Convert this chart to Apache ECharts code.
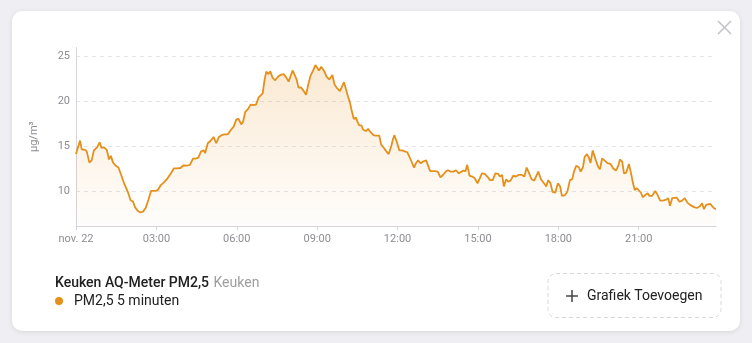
<!DOCTYPE html>
<html>
<head>
<meta charset="utf-8">
<script src="https://cdn.jsdelivr.net/npm/echarts@6/dist/echarts.min.js"></script>
<style>
  html, body { margin: 0; padding: 0; width: 752px; height: 343px; background: #eeeef3; overflow: hidden; font-family: Roboto, "Noto Sans", sans-serif; }
  #card { position: absolute; left: 12px; top: 11px; width: 728px; height: 320px; background: #fff; border-radius: 10px; box-shadow: 0 1px 5px rgba(0,0,0,0.10); }
  #chart { position: absolute; left: 0; top: 0; width: 752px; height: 343px; }
</style>
</head>
<body>
<div id="card"></div>
<div id="chart"></div>
<script>
// Time of each reading, minutes after midnight (nov. 22)
const minutes = [
  0,4,9,13,19,24,30,35,40,47,53,57,63,69,74,78,83,89,95,101,108,116,122,128,132,138,144,150,156,162,168,172,178,184,190,198,205,213,219,226,234,241,247,255,262,268,274,280,286,
  289,295,301,308,314,320,326,332,340,347,353,359,364,370,374,379,385,391,397,403,409,413,418,422,426,431,435,440,446,452,458,465,471,476,480,485,489,494,498,504,510,515,519,525,531,536,540,544,549,555,561,567,
  574,579,585,591,595,600,604,609,613,617,622,627,630,634,639,643,649,654,660,666,671,679,683,689,695,700,706,710,713,718,724,730,736,742,746,751,757,761,766,772,778,784,788,793,799,804,810,816,822,828,833,839,845,851,857,861,
  867,872,876,881,887,893,899,903,909,915,921,927,933,939,945,949,954,958,963,967,973,979,985,991,998,1004,1009,1014,1020,1026,1030,1035,1041,1047,1053,1057,1062,1067,1073,1079,1084,1088,1094,1100,1106,1111,1115,1120,1126,1130,1135,1139,1144,1148,
  1152,1157,1160,1164,1169,1173,1178,1184,1190,1197,1203,1209,1214,1218,1223,1227,1232,1238,1242,1247,1251,1256,1260,1265,1269,1275,1280,1284,1290,1293,1297,1302,1308,1314,1320,1326,1330,1335,1339,1345,1351,1357,1363,1369,1375,1379,1384,1390,1396,1402,1406,1411,1415,1420,1424,1428,1433
];
// PM2,5 readings (µg/m³)
const pm25 = [
  14.1,14.25,15.6,14.6,14.6,14.4,13.15,13.4,14.5,14.85,15.4,14.8,14.85,14.55,13.5,13.9,13.15,12.8,12.6,11.8,10.8,9.9,9.0,8.8,8.2,7.8,7.6,7.7,8.1,9.0,10.0,9.9,10.0,10.15,10.65,11.0,11.4,12.0,12.5,12.5,12.55,12.85,12.8,12.9,13.6,13.6,13.7,14.4,14.5,
  14.2,15.3,15.55,16.0,15.3,16.0,16.2,16.3,16.3,16.8,17.15,17.96,18.0,17.4,17.7,18.8,19.1,19.6,19.55,19.6,20.4,20.2,20.85,22.3,23.26,23.0,23.3,22.6,22.3,22.7,22.9,23.0,22.6,22.15,22.2,23.4,23.26,22.4,21.5,21.5,21.1,20.7,21.6,22.8,23.4,24.0,23.8,23.4,23.8,23.4,22.7,22.4,
  22.9,21.8,21.4,21.1,21.2,22.1,21.4,20.5,19.9,19.0,18.0,18.15,17.7,17.3,17.3,16.8,16.66,16.9,16.5,16.2,16.15,16.15,15.2,14.8,14.4,14.1,15.0,15.8,16.2,15.5,14.5,14.5,14.4,14.3,14.3,13.3,12.6,13.07,13.4,13.07,13.3,13.4,13.26,12.2,12.2,12.2,12.15,11.5,11.8,12.15,12.3,12.15,12.15,12.3,11.96,11.8,
  12.26,12.2,12.9,11.7,11.6,11.4,10.85,11.04,11.96,11.9,11.6,11.2,11.2,11.96,11.9,11.6,11.78,10.5,11.3,11.04,11.15,11.7,11.6,11.78,11.78,11.6,12.6,12.04,11.3,11.15,11.04,12.15,11.3,10.9,10.5,11.2,10.9,9.9,9.8,10.85,10.5,9.45,9.5,9.9,11.2,11.3,12.15,12.8,12.63,12.15,12.63,13.8,14.1,13.74,
  13.1,14.5,14.56,13.4,12.7,12.4,13.6,13.37,13.1,13.0,12.5,12.26,12.78,13.5,13.26,11.96,12.04,13.0,12.15,10.9,10.1,10.3,10.4,9.8,9.3,9.56,9.74,9.45,9.45,9.56,10.0,9.56,8.93,8.93,9.0,9.2,8.34,9.2,9.37,9.26,8.8,8.93,9.2,8.7,8.45,8.56,8.2,8.1,8.26,8.63,7.97,8.45,8.34,8.56,8.34,8.1,7.97
];
// x tick positions (minutes) and their labels
const xTicks = [0, 180, 360, 540, 720, 900, 1080, 1260];
const xTickLabels = ['nov. 22', '03:00', '06:00', '09:00', '12:00', '15:00', '18:00', '21:00'];
// y tick labels
const yTicks = [10, 15, 20, 25];

const seriesName = 'PM2,5 5 minuten';
const lineColor = '#e6901c';
const gray = '#8e8e93';

const chart = echarts.init(document.getElementById('chart'), null, { renderer: 'canvas' });
chart.setOption({
  animation: false,
  textStyle: { fontFamily: 'Roboto' },
  title: {
    left: 50, top: 269,
    text: '{a|Keuken AQ-Meter PM2,5} {b|Keuken}',
    textStyle: {
      rich: {
        a: { fontFamily: 'Roboto', fontSize: 14, fontWeight: 500, color: '#212121' },
        b: { fontFamily: 'Roboto', fontSize: 14, fontWeight: 400, color: '#9e9e9e' }
      }
    }
  },
  legend: {
    left: 50, top: 289,
    icon: 'circle', itemWidth: 8, itemHeight: 8,
    textStyle: { fontFamily: 'Roboto', fontSize: 14, color: '#212121', padding: [0, 0, 0, 6] },
    data: [{ name: seriesName, itemStyle: { color: lineColor } }]
  },
  grid: { left: 76, right: 36, top: 47.5, bottom: 117 },
  xAxis: {
    type: 'value', min: 0, max: 1433,
    axisLine: { show: true, lineStyle: { color: '#d4d4da', width: 1 } },
    axisTick: { show: true, length: 4, lineStyle: { color: '#d4d4da' }, customValues: xTicks },
    axisLabel: {
      customValues: xTicks, margin: 8, fontSize: 11, color: gray, fontFamily: 'Roboto',
      formatter: v => xTickLabels[xTicks.indexOf(v)]
    },
    splitLine: { show: false }
  },
  yAxis: {
    type: 'value', min: 6.1, max: 25.95, splitNumber: 4,
    name: 'µg/m³', nameLocation: 'middle', nameRotate: 90, nameGap: 36,
    nameTextStyle: { fontSize: 11, color: gray, fontFamily: 'Roboto' },
    axisLine: { show: true, lineStyle: { color: '#d4d4da', width: 1 } },
    axisTick: { show: false },
    axisLabel: { customValues: yTicks, margin: 6, fontSize: 11, color: gray, fontFamily: 'Roboto' },
    splitLine: { show: true, showMinLine: false, showMaxLine: false, lineStyle: { type: [4, 4], color: '#e4e4ea', width: 1 } }
  },
  series: [{
    name: seriesName,
    type: 'line',
    data: minutes.map((m, i) => [m, pm25[i]]),
    showSymbol: false,
    symbol: 'none',
    lineStyle: { color: lineColor, width: 1.8 },
    itemStyle: { color: lineColor },
    areaStyle: {
      color: new echarts.graphic.LinearGradient(0, 0, 0, 1, [
        { offset: 0, color: 'rgba(230,144,28,0.28)' },
        { offset: 1, color: 'rgba(230,144,28,0.02)' }
      ])
    }
  }],
  graphic: [
    // close "X"
    { type: 'line', shape: { x1: 718, y1: 21, x2: 731, y2: 34 }, style: { stroke: '#c4c4c8', lineWidth: 1.6 } },
    { type: 'line', shape: { x1: 731, y1: 21, x2: 718, y2: 34 }, style: { stroke: '#c4c4c8', lineWidth: 1.6 } },
    // "Grafiek Toevoegen" button
    { type: 'rect', shape: { x: 548, y: 273.5, width: 173, height: 44, r: 8 }, style: { fill: 'none', stroke: '#d8d8dc', lineWidth: 1, lineDash: [4, 3] } },
    { type: 'line', shape: { x1: 566, y1: 296, x2: 578, y2: 296 }, style: { stroke: '#444', lineWidth: 1.5 } },
    { type: 'line', shape: { x1: 572, y1: 290, x2: 572, y2: 302 }, style: { stroke: '#444', lineWidth: 1.5 } },
    { type: 'text', x: 587, y: 296, style: { text: 'Grafiek Toevoegen', fontFamily: 'Roboto', fontSize: 14, fill: '#212121', verticalAlign: 'middle' } }
  ]
});
</script>
</body>
</html>
